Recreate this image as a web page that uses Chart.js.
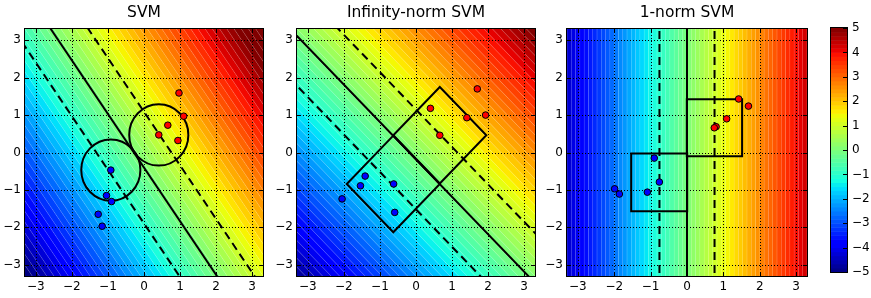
<!DOCTYPE html>
<html>
<head>
<meta charset="utf-8">
<script src="https://cdn.jsdelivr.net/npm/chart.js@4.4.0/dist/chart.umd.min.js"></script>
<style>
  html, body { margin: 0; padding: 0; background: #fff; }
  #wrap { position: relative; width: 871px; height: 298px; overflow: hidden; }
  canvas { position: absolute; top: 0; }
</style>
</head>
<body>
<div id="wrap">
  <canvas id="svmChart" width="268" height="298" style="left:0px"></canvas>
  <canvas id="infChart" width="272" height="298" style="left:268px"></canvas>
  <canvas id="oneChart" width="272" height="298" style="left:540px"></canvas>
  <canvas id="barChart" width="59" height="298" style="left:812px"></canvas>
</div>
<script>
Chart.defaults.font.family = "'DejaVu Sans', sans-serif";
Chart.defaults.font.size = 12;
Chart.defaults.color = '#000';
Chart.defaults.animation = false;

const axisMin = -3.3;
const axisMax = 3.3;
const colorMin = -5;
const colorMax = 5;
const barTicks = [-5, -4, -3, -2, -1, 0, 1, 2, 3, 4, 5];

// SVM: decision function w.x + b, support circles
const svmW = [0.96, 0.67];
const svmB = 0.27;
const svmRedX = [0.97, 1.10, 0.66, 0.41, 0.94];
const svmRedY = [1.59, 0.97, 0.73, 0.47, 0.32];
const svmBlueX = [-0.92, -1.04, -0.90, -1.27, -1.16];
const svmBlueY = [-0.47, -1.15, -1.31, -1.65, -1.97];
const svmShapeX = [0.41, -0.92];
const svmShapeY = [0.47, -0.47];
const svmShapeR = [0.82, 0.82];

// Infinity-norm SVM: diamonds
const infW = [0.75, 0.75];
const infB = 0.14;
const infRedX = [1.70, 0.40, 1.41, 1.93, 0.66];
const infRedY = [1.70, 1.18, 0.93, 1.00, 0.46];
const infBlueX = [-1.41, -1.54, -0.62, -2.05, -0.59];
const infBlueY = [-0.63, -0.89, -0.84, -1.24, -1.60];
const infShapeX = [0.66, -0.63];
const infShapeY = [0.46, -0.84];
const infShapeR = [1.29, 1.29];

// 1-norm SVM: squares
const oneW = [1.32, 0];
const oneB = 0;
const oneRedX = [1.42, 1.69, 1.09, 0.80, 0.75];
const oneRedY = [1.43, 1.24, 0.90, 0.69, 0.66];
const oneBlueX = [-0.90, -0.76, -1.09, -1.99, -1.86];
const oneBlueY = [-0.15, -0.79, -1.06, -0.97, -1.11];
const oneShapeX = [0.755, -0.765];
const oneShapeY = [0.66, -0.80];
const oneShapeR = [0.76, 0.77];

const levelCount = 56;

const jetRed = [[0, 0], [0.35, 0], [0.66, 1], [0.89, 1], [1, 0.5]];
const jetGreen = [[0, 0], [0.125, 0], [0.375, 1], [0.64, 1], [0.91, 0], [1, 0]];
const jetBlue = [[0, 0.5], [0.11, 1], [0.34, 1], [0.65, 0], [1, 0]];

function interp(pts, t) {
  for (let i = 1; i < pts.length; i++) {
    if (t <= pts[i][0]) {
      const [t0, v0] = pts[i - 1], [t1, v1] = pts[i];
      return v0 + (v1 - v0) * (t - t0) / (t1 - t0);
    }
  }
  return pts[pts.length - 1][1];
}

function jet(v) {
  const t = Math.min(Math.max((v - colorMin) / (colorMax - colorMin), 0), 1);
  return [interp(jetRed, t) * 255, interp(jetGreen, t) * 255, interp(jetBlue, t) * 255];
}

function signed(v) {
  return v < 0 ? '\u2212' + Math.abs(v) : String(v);
}

function zip(xs, ys) {
  return xs.map((x, i) => ({ x: x, y: ys[i] }));
}

// endpoints of the line w.x + b = c, clipped later by the chart
function boundary(w, b, c) {
  if (Math.abs(w[1]) > 1e-9) {
    return [-6, 6].map(x => ({ x: x, y: (c - b - w[0] * x) / w[1] }));
  }
  return [-6, 6].map(y => ({ x: (c - b) / w[0], y: y }));
}

function panelPlugin(p) {
  return {
    id: 'panel',
    beforeDraw(chart) {
      const { ctx, chartArea: area, scales: { x, y } } = chart;
      const left = Math.round(area.left), top = Math.round(area.top);
      const W = Math.round(area.right) - left, H = Math.round(area.bottom) - top;
      const f = (xv, yv) => p.w[0] * xv + p.w[1] * yv + p.b;
      const corners = [f(axisMin, axisMin), f(axisMin, axisMax), f(axisMax, axisMin), f(axisMax, axisMax)];
      const fMin = Math.min(...corners), fMax = Math.max(...corners);
      const step = (fMax - fMin) / levelCount;
      const sx = x.getPixelForValue(1) - x.getPixelForValue(0);
      const sy = y.getPixelForValue(0) - y.getPixelForValue(1);
      const grad = Math.hypot(p.w[0] / sx, p.w[1] / sy);
      const img = ctx.createImageData(W, H);
      for (let j = 0; j < H; j++) {
        const yv = y.getValueForPixel(top + j + 0.5);
        for (let i = 0; i < W; i++) {
          const xv = x.getValueForPixel(left + i + 0.5);
          const t = (f(xv, yv) - fMin) / step;
          const k = Math.min(Math.max(Math.floor(t), 0), levelCount - 1);
          const c = jet(fMin + (k + 0.5) * step);
          const frac = t - Math.floor(t);
          const dist = Math.min(frac, 1 - frac) * step / grad;
          const a = dist < 0.7 ? 0.3 * (1 - dist / 0.7) : 0;
          const o = (j * W + i) * 4;
          img.data[o] = c[0] + (255 - c[0]) * a;
          img.data[o + 1] = c[1] + (255 - c[1]) * a;
          img.data[o + 2] = c[2] + (255 - c[2]) * a;
          img.data[o + 3] = 255;
        }
      }
      ctx.putImageData(img, left, top);

      // dotted grid
      ctx.save();
      ctx.strokeStyle = '#000';
      ctx.lineWidth = 1;
      ctx.setLineDash([1, 2]);
      ctx.beginPath();
      x.ticks.forEach(tk => {
        const px = Math.round(x.getPixelForValue(tk.value)) + 0.5;
        ctx.moveTo(px, top); ctx.lineTo(px, top + H);
      });
      y.ticks.forEach(tk => {
        const py = Math.round(y.getPixelForValue(tk.value)) + 0.5;
        ctx.moveTo(left, py); ctx.lineTo(left + W, py);
      });
      ctx.stroke();
      ctx.restore();
    },
    beforeDatasetsDraw(chart) {
      const { ctx, chartArea: area, scales: { x, y } } = chart;
      ctx.save();
      ctx.beginPath();
      ctx.rect(area.left, area.top, area.right - area.left, area.bottom - area.top);
      ctx.clip();
      ctx.strokeStyle = '#000';
      ctx.lineWidth = 2;
      p.shapeX.forEach((cx, i) => {
        const cy = p.shapeY[i], r = p.shapeR[i];
        ctx.beginPath();
        if (p.shape === 'circle') {
          const px = x.getPixelForValue(cx), py = y.getPixelForValue(cy);
          const rx = x.getPixelForValue(cx + r) - px, ry = py - y.getPixelForValue(cy + r);
          ctx.ellipse(px, py, rx, ry, 0, 0, Math.PI * 2);
        } else {
          const pts = p.shape === 'diamond'
            ? [[cx, cy + r], [cx + r, cy], [cx, cy - r], [cx - r, cy]]
            : [[cx - r, cy + r], [cx + r, cy + r], [cx + r, cy - r], [cx - r, cy - r]];
          pts.forEach((q, n) => {
            const px = x.getPixelForValue(q[0]), py = y.getPixelForValue(q[1]);
            if (n === 0) ctx.moveTo(px, py); else ctx.lineTo(px, py);
          });
          ctx.closePath();
        }
        ctx.stroke();
      });
      ctx.restore();
    },
    afterDraw(chart) {
      const { ctx, chartArea: area, scales: { x, y } } = chart;
      const left = Math.round(area.left), top = Math.round(area.top);
      const right = Math.round(area.right), bottom = Math.round(area.bottom);
      ctx.save();
      ctx.strokeStyle = '#000';
      ctx.lineWidth = 1;
      ctx.beginPath();
      x.ticks.forEach(tk => {
        const px = Math.round(x.getPixelForValue(tk.value)) + 0.5;
        ctx.moveTo(px, bottom); ctx.lineTo(px, bottom - 4);
        ctx.moveTo(px, top); ctx.lineTo(px, top + 4);
      });
      y.ticks.forEach(tk => {
        const py = Math.round(y.getPixelForValue(tk.value)) + 0.5;
        ctx.moveTo(left, py); ctx.lineTo(left + 4, py);
        ctx.moveTo(right, py); ctx.lineTo(right - 4, py);
      });
      ctx.stroke();
      ctx.strokeRect(left - 0.5, top - 0.5, right - left + 1, bottom - top + 1);
      ctx.restore();
    }
  };
}

const panels = [
  { id: 'svmChart', title: 'SVM', w: svmW, b: svmB, redX: svmRedX, redY: svmRedY, blueX: svmBlueX, blueY: svmBlueY,
    shape: 'circle', shapeX: svmShapeX, shapeY: svmShapeY, shapeR: svmShapeR, axisWidth: 25 },
  { id: 'infChart', title: 'Infinity-norm SVM', w: infW, b: infB, redX: infRedX, redY: infRedY, blueX: infBlueX, blueY: infBlueY,
    shape: 'diamond', shapeX: infShapeX, shapeY: infShapeY, shapeR: infShapeR, axisWidth: 29 },
  { id: 'oneChart', title: '1-norm SVM', w: oneW, b: oneB, redX: oneRedX, redY: oneRedY, blueX: oneBlueX, blueY: oneBlueY,
    shape: 'square', shapeX: oneShapeX, shapeY: oneShapeY, shapeR: oneShapeR, axisWidth: 27 }
];

panels.forEach(p => {
  const pointStyle = color => ({
    backgroundColor: color, borderColor: '#000', borderWidth: 1, pointRadius: 3.3, showLine: false
  });
  const lineStyle = dash => ({
    borderColor: '#000', borderWidth: 2, borderDash: dash, pointRadius: 0, showLine: true, clip: 0
  });
  new Chart(document.getElementById(p.id), {
    type: 'scatter',
    data: {
      datasets: [
        Object.assign({ label: 'class +1', data: zip(p.redX, p.redY) }, pointStyle('#ff0000')),
        Object.assign({ label: 'class -1', data: zip(p.blueX, p.blueY) }, pointStyle('#0000ff')),
        Object.assign({ label: 'boundary', data: boundary(p.w, p.b, 0) }, lineStyle([])),
        Object.assign({ label: 'margin +1', data: boundary(p.w, p.b, 1) }, lineStyle([8, 5])),
        Object.assign({ label: 'margin -1', data: boundary(p.w, p.b, -1) }, lineStyle([8, 5]))
      ]
    },
    options: {
      responsive: false,
      layout: { padding: { right: 5 } },
      plugins: {
        legend: { display: false },
        tooltip: { enabled: false },
        title: {
          display: true, text: p.title, fullSize: false, color: '#000',
          font: { size: 15.5, weight: 'normal', lineHeight: 1.2 }, padding: { top: 3.4, bottom: 7 }
        }
      },
      scales: {
        x: {
          type: 'linear', min: axisMin, max: axisMax,
          grid: { display: false, drawTicks: false }, border: { display: false },
          ticks: { stepSize: 1, includeBounds: false, padding: 4, maxRotation: 0, callback: signed },
          afterFit: s => { s.height = 22; }
        },
        y: {
          type: 'linear', min: axisMin, max: axisMax,
          grid: { display: false, drawTicks: false }, border: { display: false },
          ticks: { stepSize: 1, includeBounds: false, padding: 4, callback: signed },
          afterFit: s => { s.width = p.axisWidth; }
        }
      }
    },
    plugins: [panelPlugin(p)]
  });
});

// colorbar
const barPlugin = {
  id: 'colorbar',
  beforeDraw(chart) {
    const { ctx, chartArea: area, scales: { y } } = chart;
    const bands = 60;
    const step = (colorMax - colorMin) / bands;
    for (let k = 0; k < bands; k++) {
      const v0 = colorMin + k * step;
      const c = jet(v0 + step / 2);
      const y0 = y.getPixelForValue(v0), y1 = y.getPixelForValue(v0 + step);
      ctx.fillStyle = 'rgb(' + c.map(Math.round).join(',') + ')';
      ctx.fillRect(area.left, y1, area.right - area.left, y0 - y1 + 0.5);
    }
  },
  afterDraw(chart) {
    const { ctx, chartArea: area, scales: { y } } = chart;
    ctx.save();
    ctx.strokeStyle = '#000';
    ctx.lineWidth = 1;
    ctx.beginPath();
    y.ticks.forEach(tk => {
      const py = Math.round(y.getPixelForValue(tk.value)) + 0.5;
      ctx.moveTo(area.right, py); ctx.lineTo(area.right - 4, py);
    });
    ctx.stroke();
    ctx.strokeRect(Math.round(area.left) - 0.5, Math.round(area.top) - 0.5,
      Math.round(area.right - area.left) + 1, Math.round(area.bottom - area.top) + 1);
    ctx.restore();
  }
};

new Chart(document.getElementById('barChart'), {
  type: 'scatter',
  data: { datasets: [] },
  options: {
    responsive: false,
    layout: { padding: { left: 19, top: 28, bottom: 26 } },
    plugins: { legend: { display: false }, tooltip: { enabled: false } },
    scales: {
      x: { display: false, min: 0, max: 1 },
      y: {
        type: 'linear', position: 'right', min: colorMin, max: colorMax,
        afterBuildTicks: s => { s.ticks = barTicks.map(v => ({ value: v })); },
        grid: { display: false, drawTicks: false }, border: { display: false },
        ticks: { padding: 5, callback: signed },
        afterFit: s => { s.width = 24; }
      }
    }
  },
  plugins: [barPlugin]
});
</script>
</body>
</html>
